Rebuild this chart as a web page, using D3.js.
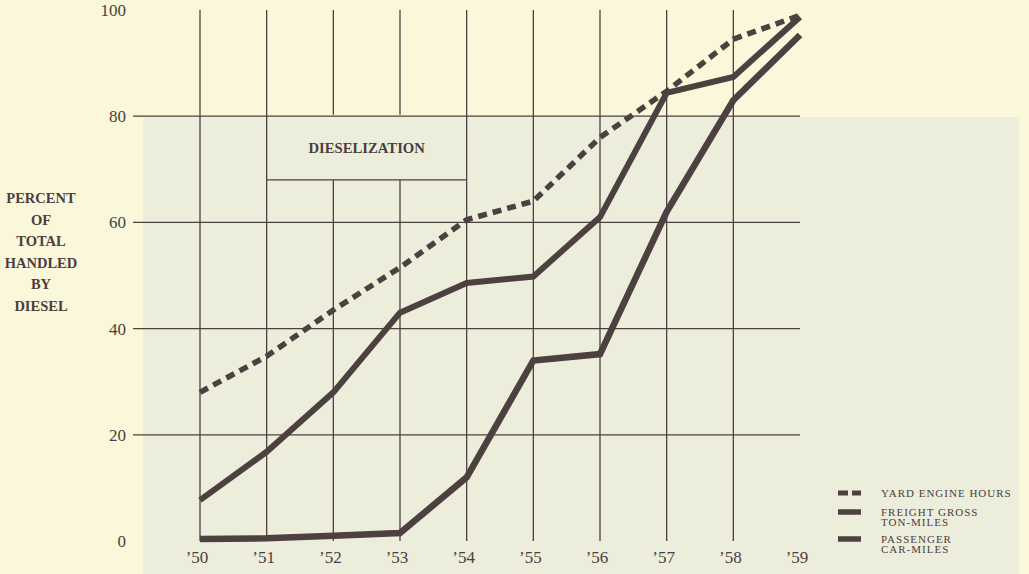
<!DOCTYPE html>
<html><head><meta charset="utf-8">
<script src="https://cdn.jsdelivr.net/npm/d3@7"></script>
<style>
html,body{margin:0;padding:0;background:#fbf7da;}
svg{display:block;}
text{font-family:"Liberation Serif","DejaVu Serif",serif;fill:#4a3e3e;}
</style></head>
<body>
<svg id="chart" width="1029" height="574"></svg>
<script>
const years = ["'50","'51","'52","'53","'54","'55","'56","'57","'58","'59"];
const yearLabels = ["\u201950","\u201951","\u201952","\u201953","\u201954","\u201955","\u201956","\u201957","\u201958","\u201959"];
const yardEngineHours = [28, 34.8, 43.5, 51.5, 60.5, 64, 76, 84.7, 94.5, 99];
const freightGrossTonMiles = [7.7, 16.8, 28, 43, 48.6, 49.8, 61, 84.4, 87.4, 98.7];
const passengerCarMiles = [0.4, 0.5, 1, 1.5, 12, 34, 35.2, 62, 83, 95.3];
const yTicks = [0, 20, 40, 60, 80, 100];
const yAxisTitle = ["PERCENT","OF","TOTAL","HANDLED","BY","DIESEL"];
const legendItems = [
  {label:["YARD ENGINE HOURS"], dashed:true},
  {label:["FREIGHT GROSS","TON-MILES"], dashed:false},
  {label:["PASSENGER","CAR-MILES"], dashed:false}
];
const boxLabel = "DIESELIZATION";

const ink = "#4d4040";
const svg = d3.select("#chart");

// faded photo region backdrop
svg.append("rect").attr("x",143).attr("y",117).attr("width",876).attr("height",457).attr("fill","#ededdc");

const x = d3.scalePoint().domain(years).range([200, 800]);
const y = d3.scaleLinear().domain([0,100]).range([541, 10]);

const g = svg.append("g");
// horizontal grid lines (20..80)
g.selectAll("line.h").data(yTicks.filter(d=>d>0 && d<100)).join("line")
  .attr("x1",133).attr("x2",800)
  .attr("y1",d=>y(d)).attr("y2",d=>y(d))
  .attr("stroke",ink).attr("stroke-width",1.3);

// vertical grid lines, '50..'58, with a gap for the box at '52 and '53
const boxTop = y(80), boxBottom = y(68);
const vYears = years.slice(0,9);
vYears.forEach(yr=>{
  const xi = x(yr);
  if (yr==="'52"||yr==="'53"){
    g.append("line").attr("x1",xi).attr("x2",xi).attr("y1",y(100)).attr("y2",y(80)-1.5).attr("stroke",ink).attr("stroke-width",1.3);
    g.append("line").attr("x1",xi).attr("x2",xi).attr("y1",boxBottom).attr("y2",y(0)).attr("stroke",ink).attr("stroke-width",1.3);
  } else {
    g.append("line").attr("x1",xi).attr("x2",xi).attr("y1",y(100)).attr("y2",y(0)).attr("stroke",ink).attr("stroke-width",1.3);
  }
});
// box bottom
g.append("line").attr("x1",x("'51")).attr("x2",x("'54")).attr("y1",boxBottom).attr("y2",boxBottom).attr("stroke",ink).attr("stroke-width",1.3);
g.append("text").attr("x",(x("'51")+x("'54"))/2).attr("y",(boxTop+boxBottom)/2+5)
  .attr("text-anchor","middle").attr("font-size",14.7).attr("font-weight","bold").text(boxLabel);

// y tick labels
g.selectAll("text.yt").data(yTicks).join("text")
  .attr("x",126).attr("y",d=>y(d)+6).attr("text-anchor","end").attr("font-size",17).text(d=>d);
// x labels
g.selectAll("text.xt").data(years).join("text")
  .attr("x",d=>x(d)-3).attr("y",563).attr("text-anchor","middle").attr("font-size",17)
  .text((d,i)=>yearLabels[i]);

// y axis title
g.selectAll("text.yat").data(yAxisTitle).join("text")
  .attr("x",41).attr("y",(d,i)=>203+i*21.6).attr("text-anchor","middle")
  .attr("font-size",14.5).attr("font-weight","bold").text(d=>d);

const line = d3.line().x((d,i)=>x(years[i])).y(d=>y(d));
svg.append("path").datum(passengerCarMiles).attr("d",line).attr("fill","none")
  .attr("stroke",ink).attr("stroke-width",6.5).attr("stroke-linejoin","miter");
svg.append("path").datum(freightGrossTonMiles).attr("d",line).attr("fill","none")
  .attr("stroke",ink).attr("stroke-width",6).attr("stroke-linejoin","miter");
svg.append("path").datum(yardEngineHours).attr("d",line).attr("fill","none")
  .attr("stroke",ink).attr("stroke-width",5.5).attr("stroke-dasharray","9,6");

// legend
const lg = svg.append("g");
const ly = [493, 512, 539];
legendItems.forEach((it,i)=>{
  const yy = ly[i];
  if (it.dashed){
    lg.append("line").attr("x1",838).attr("x2",861).attr("y1",yy).attr("y2",yy)
      .attr("stroke",ink).attr("stroke-width",5).attr("stroke-dasharray","10,4");
  } else {
    lg.append("line").attr("x1",838).attr("x2",861).attr("y1",yy).attr("y2",yy)
      .attr("stroke",ink).attr("stroke-width",5.5);
  }
  it.label.forEach((t,j)=>{
    lg.append("text").attr("x",881).attr("y",yy+3.5+j*10.5).attr("font-size",11)
      .attr("letter-spacing",1).text(t);
  });
});
</script>
</body></html>
